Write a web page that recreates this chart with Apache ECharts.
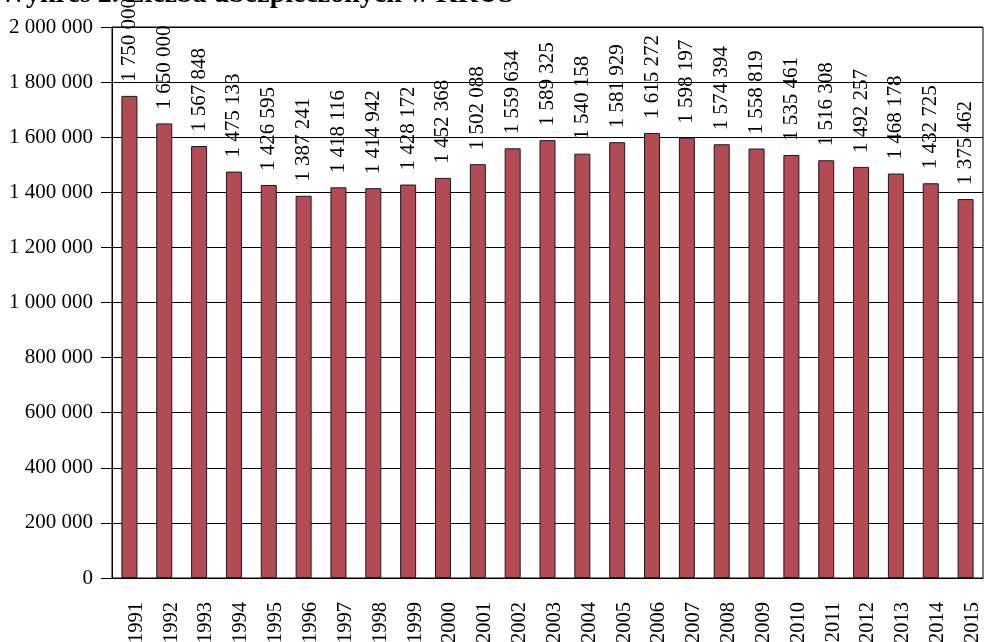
<!DOCTYPE html>
<html>
<head>
<meta charset="utf-8">
<script src="https://cdn.jsdelivr.net/npm/echarts@6/dist/echarts.min.js"></script>
<style>
  html, body { margin: 0; padding: 0; background: #fff; }
  #chart { width: 984px; height: 642px; }
</style>
</head>
<body>
<div id="chart"></div>
<script>
// lata
var years = ['1991', '1992', '1993', '1994', '1995', '1996', '1997', '1998', '1999', '2000',
  '2001', '2002', '2003', '2004', '2005', '2006', '2007', '2008', '2009', '2010',
  '2011', '2012', '2013', '2014', '2015']
// liczba ubezpieczonych
var insured = [1750000, 1650000, 1567848, 1475133, 1426595, 1387241, 1418116, 1414942, 1428172, 1452368,
  1502088, 1559634, 1589325, 1540158, 1581929, 1615272, 1598197, 1574394, 1558819, 1535461,
  1516308, 1492257, 1468178, 1432725, 1375462]
var yMin = 0
var yMax = 2000000
var yStep = 200000

// 1750000 -> "1 750 000"
function spaced (v) {
  return String(v).replace(/\B(?=(\d{3})+(?!\d))/g, ' ')
}

var font = '"Liberation Serif", "Times New Roman", serif'
var chart = echarts.init(document.getElementById('chart'))
var option = {
  animation: false,
  title: {
    text: 'Wykres 2. Liczba ubezpieczonych w KRUS',
    left: -1,
    top: -19,
    padding: 0,
    textStyle: { fontFamily: font, fontSize: 28, fontWeight: 'bold', color: '#000' }
  },
  grid: {
    left: 112,
    right: 1,
    top: 27,
    bottom: 64,
    outerBoundsMode: 'none',
    containLabel: false,
    show: true,
    borderColor: '#000',
    borderWidth: 1
  },
  xAxis: {
    type: 'category',
    data: years,
    axisLine: { lineStyle: { color: '#000', width: 1 } },
    axisTick: { length: 11, lineStyle: { color: '#000' } },
    axisLabel: {
      rotate: 90,
      margin: 24,
      verticalAlign: 'top',
      lineHeight: 14,
      color: '#000',
      fontFamily: font,
      fontSize: 20.5,
      interval: 0
    }
  },
  yAxis: {
    type: 'value',
    min: yMin,
    max: yMax,
    interval: yStep,
    axisLine: { show: true, lineStyle: { color: '#000', width: 1 } },
    axisTick: { show: true, length: 11, lineStyle: { color: '#000' } },
    splitLine: { lineStyle: { color: '#000', width: 1 } },
    axisLabel: {
      margin: 19,
      color: '#000',
      fontFamily: font,
      fontSize: 21,
      formatter: function (v) { return spaced(v) }
    }
  },
  series: [
    {
      type: 'bar',
      data: insured,
      barWidth: 16,
      itemStyle: { color: '#b34a54', borderColor: '#1a1a1a', borderWidth: 1 },
      label: {
        show: true,
        position: 'top',
        rotate: 90,
        align: 'left',
        verticalAlign: 'middle',
        distance: 14,
        color: '#000',
        fontFamily: font,
        fontSize: 21,
        formatter: function (p) { return spaced(p.value) }
      }
    }
  ]
}
chart.setOption(option)
</script>
</body>
</html>
